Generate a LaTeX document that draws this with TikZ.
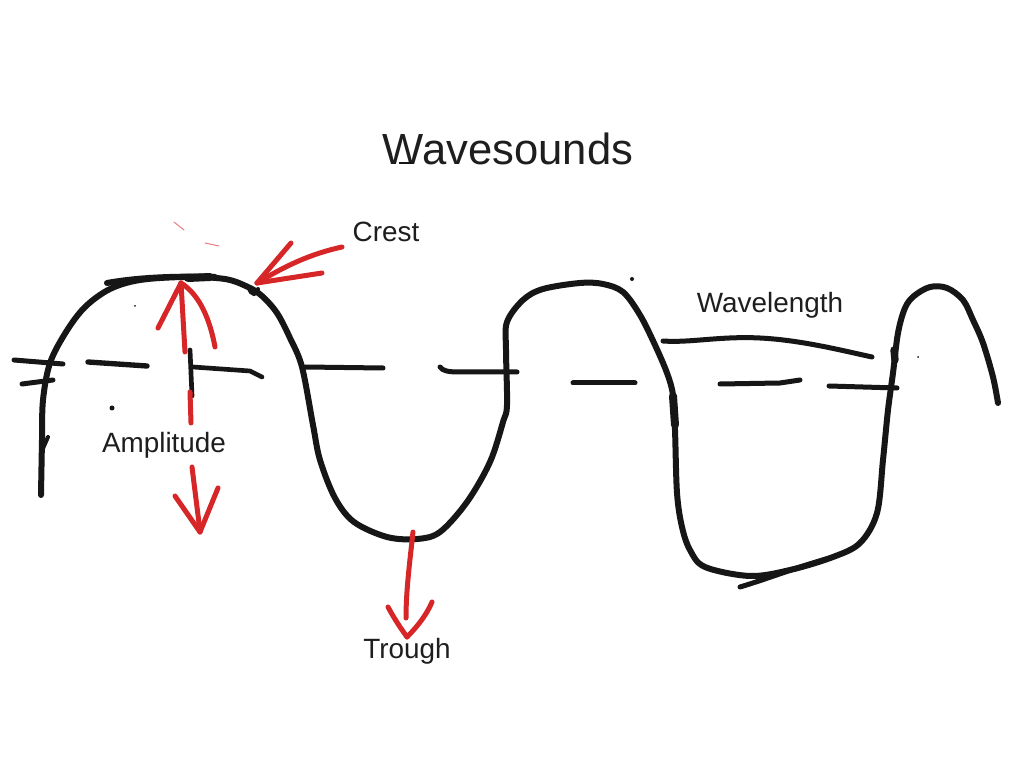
\documentclass[tikz,border=0pt]{standalone}
\usepackage{fontspec}
\setmainfont{Liberation Sans}
\definecolor{ink}{RGB}{22,22,22}
\definecolor{redink}{RGB}{214,38,40}
\definecolor{txt}{RGB}{30,30,30}
\tikzset{
  blk/.style={draw=ink, line width=0.18cm, line cap=round, line join=round},
  rdd/.style={draw=redink, line width=0.15cm, line cap=round, line join=round},
  lbl/.style={anchor=base, text=txt, font=\fontsize{23.8}{26}\selectfont, inner sep=0pt},
  ttl/.style={anchor=base, text=txt, font=\fontsize{37.2}{40}\selectfont, inner sep=0pt},
  faint/.style={draw=redink, line width=0.03cm, opacity=0.6, line cap=round}
}
\begin{document}
\begin{tikzpicture}[x=0.03cm, y=-0.03cm]
\useasboundingbox (0,0) rectangle (1024,768);
\fill[white] (0,0) rectangle (1024,768);

% texts
\node[ttl] (title) at (508,165) {Wavesounds};
\node[lbl] (crest) at (386,242) {Crest};
\node[lbl] (wavelength) at (770,313) {Wavelength};
\node[lbl] (amplitude) at (164,453) {Amplitude};
\node[lbl] (trough) at (407,658) {Trough};
\draw[draw=ink, line width=0.05cm] (399,163) -- (413,163);

% main wave
\draw[blk] plot[smooth, tension=0.55] coordinates {
 (41,495) (42,440) (43,400) (50,363) (66,332) (85,307) (110,289) (140,280)
 (185,277) (225,279) (248,287) (262,296) (277,313) (290,338) (302,367)
 (313,425) (320,460) (335,498) (354,522) (387,537) (417,539) (440,532)
 (467,502) (490,462) (503,422) (507,405) (506,350) (507,322) (523,300)
 (543,289) (580,283) (603,284) (623,292) (640,315) (655,345) (667,373)
 (673,395) (675,430) (677,493) (682,527) (690,550) (705,567) (750,576)
 (790,570) (833,557) (860,543) (877,513) (883,460) (888,410) (893,373)
 (898,333) (905,308) (914,296) (930,287) (947,288) (963,300) (973,320)
 (983,343) (993,377) (998,403)};
% top stroke over first crest
\draw[blk] (107,283) .. controls (140,277) and (180,276) .. (215,277);
\draw[blk, line width=0.24cm] (188,278) -- (210,277);
% little loop at crest
\draw[draw=ink, line width=0.12cm, line cap=round] (249,287) .. controls (250,296) and (258,296) .. (258,289);
% bottom cross stroke
\draw[blk, line width=0.15cm] (740,587) .. controls (770,578) and (800,566) .. (830,558);
% small tick on left
\draw[blk, line width=0.12cm] (48,437) -- (41,453);
% thick bits
\draw[blk, line width=0.24cm] (673,396) -- (675,425);
\draw[blk, line width=0.22cm] (894,350) -- (895,360);

% equilibrium dashes
\draw[blk, line width=0.15cm] (14,360) -- (63,364);
\draw[blk, line width=0.15cm] (22,384) -- (53,380);
\draw[blk, line width=0.16cm] (88,362) -- (147,366);
\draw[blk, line width=0.14cm] (190,350) -- (192,396);
\draw[blk, line width=0.14cm] (193,367) -- (250,371) -- (262,377);
\draw[blk, line width=0.15cm] (305,367) -- (383,368);
\draw[blk, line width=0.15cm] (440,367) .. controls (443,371) and (448,372) .. (460,372) -- (517,372);
\draw[blk, line width=0.15cm] (573,383) -- (635,383);
\draw[blk, line width=0.15cm] (720,384) -- (780,383) -- (800,380);
\draw[blk, line width=0.15cm] (829,386) -- (897,388);
% wavelength line
\draw[blk, line width=0.15cm] (663,341) .. controls (690,343) and (720,336) .. (760,338) .. controls (800,340) and (840,350) .. (872,357);

% dots
\fill[ink] (112,408) circle (2.5);
\fill[ink] (135,306) circle (1);
\fill[ink] (632,279) circle (2);
\fill[ink] (918,357) circle (1);

% crest arrow
\coordinate (ct) at (257,283);
\draw[rdd] (ct) -- (291,243);
\draw[rdd] (ct) .. controls (285,266) and (310,254) .. (342,247);
\draw[rdd] (ct) -- (322,273);
% faint marks
\draw[faint] (174,222) -- (184,230);
\draw[faint] (205,243) -- (219,246);

% amplitude arrow
\coordinate (at) at (181,283);
\draw[rdd] (at) -- (158,328);
\draw[rdd] (at) .. controls (200,295) and (210,320) .. (215,347);
\draw[rdd] (at) -- (185,352);
\draw[rdd] (190,392) -- (191,423);
\draw[rdd] (192,467) -- (200,531);
\coordinate (ab) at (200,532);
\draw[rdd] (ab) -- (175,496);
\draw[rdd] (ab) -- (218,488);

% trough arrow
\coordinate (tt) at (407,637);
\draw[rdd] (413,532) .. controls (410,560) and (406,590) .. (406,618);
\draw[rdd] (388,607) .. controls (395,620) and (402,630) .. (tt);
\draw[rdd] (tt) .. controls (418,626) and (427,614) .. (432,602);
\end{tikzpicture}
\end{document}
